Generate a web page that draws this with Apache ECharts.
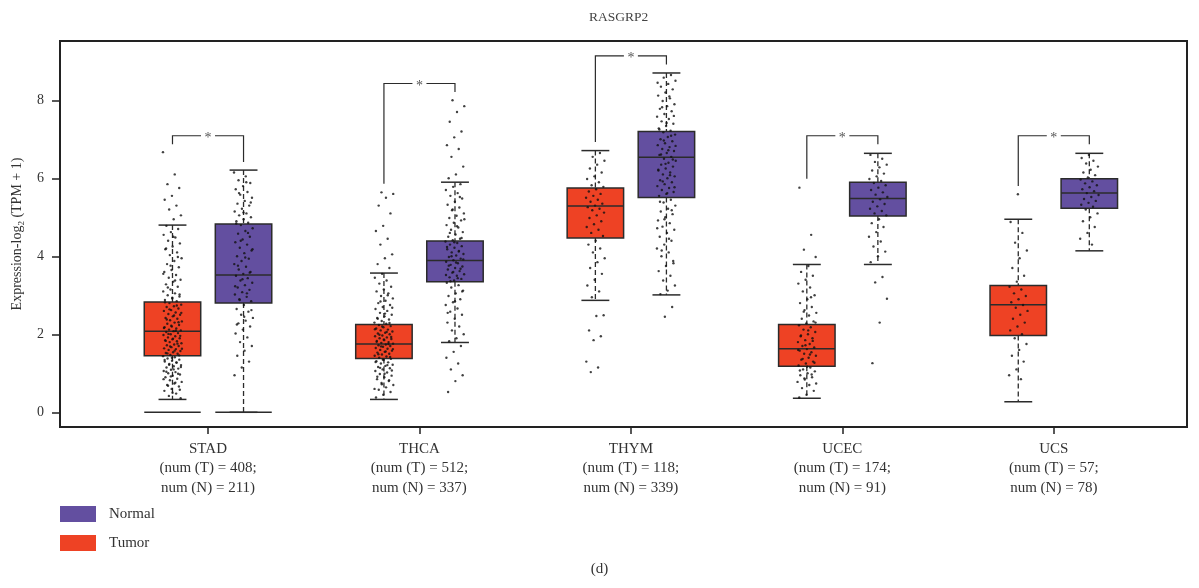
<!DOCTYPE html>
<html><head><meta charset="utf-8">
<script src="https://cdn.jsdelivr.net/npm/echarts@6/dist/echarts.min.js"></script>
<style>html,body{margin:0;padding:0;background:#fff}#c{width:1199px;height:588px}</style>
</head><body><div id="c"></div>
<script>
const categories = ['STAD','THCA','THYM','UCEC','UCS'];
const numTumor = [408,512,118,174,57];
const numNormal = [211,337,339,91,78];
const yTicks = [0,2,4,6,8];
// [lower whisker, Q1, median, Q3, upper whisker]
const tumorStats = [
  [0.33,1.45,2.08,2.83,4.80],
  [0.33,1.38,1.75,2.25,3.57],
  [2.87,4.47,5.29,5.75,6.71],
  [0.36,1.18,1.63,2.25,3.79],
  [0.27,1.97,2.76,3.25,4.95]
];
const normalStats = [
  [0.00,2.80,3.52,4.83,6.21],
  [1.79,3.35,3.89,4.39,5.90],
  [3.01,5.51,6.54,7.20,8.70],
  [3.79,5.03,5.48,5.90,6.64],
  [4.14,5.23,5.62,5.99,6.64]
];
const tumorZero = [1,0,0,0,0];
const normalZero = [1,0,0,0,0];
const bracketTop = [7.09,8.43,9.14,7.09,7.09];
const bracketTumorEnd = [6.87,5.86,6.93,5.99,5.80];
const bracketNormalEnd = [6.42,8.21,8.92,6.87,6.87];

const stadTumorPts = [6.67,6.1,5.85,5.75,5.55,5.45,5.3,5.2,5.05,4.95,4.78,4.7,4.62,4.55,4.48,4.4,4.33,4.25,4.18,4.1,4.03,3.95,3.88,3.8,3.72,3.65,3.6,3.52,3.45,3.4,3.35,3.28,3.22,3.15,3.1,3.05,3.0,2.97,2.92,2.88,2.85,2.8,2.76,2.72,2.7,2.66,2.62,2.6,2.56,2.52,2.5,2.46,2.42,2.4,2.36,2.33,2.3,2.27,2.24,2.2,2.18,2.15,2.12,2.1,2.08,2.06,2.03,2.0,1.98,1.95,1.92,1.9,1.87,1.85,1.82,1.8,1.77,1.74,1.72,1.7,1.67,1.64,1.62,1.6,1.57,1.54,1.52,1.5,1.47,1.44,1.41,1.38,1.35,1.32,1.3,1.27,1.24,1.21,1.18,1.15,1.12,1.09,1.06,1.03,1.0,0.97,0.94,0.9,0.86,0.82,0.78,0.74,0.7,0.66,0.6,0.55,0.48,0.42,0.36,
  4.5,4.2,3.98,3.76,3.55,3.38,3.2,3.02,2.94,2.82,2.74,2.64,2.55,2.48,2.38,2.31,2.22,2.16,2.09,2.01,1.96,1.89,1.83,1.76,1.69,1.63,1.58,1.51,1.46,1.4,1.34,1.28,1.22,1.16,1.1,1.04,0.99,0.92,0.85,0.76,0.68,0.58,0.5];
const stadNormalPts = [6.15,6.05,5.95,5.88,5.8,5.72,5.65,5.58,5.5,5.42,5.35,5.3,5.22,5.15,5.1,5.05,5.0,4.95,4.9,4.86,4.8,4.72,4.65,4.58,4.5,4.43,4.36,4.3,4.22,4.15,4.08,4.0,3.94,3.88,3.8,3.73,3.66,3.6,3.55,3.5,3.44,3.38,3.32,3.26,3.2,3.14,3.08,3.02,2.96,2.9,2.85,2.75,2.65,2.58,2.5,2.42,2.35,2.28,2.2,2.12,2.02,1.92,1.8,1.7,1.58,1.45,1.3,1.15,0.95,
  5.9,5.62,5.38,5.12,4.84,4.6,4.4,4.18,3.97,3.76,3.58,3.41,3.23,3.05,2.88,2.62,2.45,2.25];
const thcaTumorPts = [5.64,5.6,5.5,5.3,5.1,4.78,4.65,4.45,4.3,4.05,3.95,3.8,3.7,3.55,3.45,3.38,3.3,3.22,3.15,3.1,3.05,2.98,2.92,2.86,2.8,2.75,2.7,2.65,2.6,2.55,2.5,2.46,2.42,2.38,2.34,2.3,2.27,2.24,2.21,2.18,2.15,2.12,2.1,2.07,2.04,2.02,2.0,1.97,1.95,1.92,1.9,1.88,1.85,1.83,1.8,1.78,1.76,1.74,1.72,1.7,1.68,1.65,1.63,1.6,1.58,1.55,1.53,1.5,1.48,1.45,1.43,1.4,1.37,1.34,1.31,1.28,1.25,1.22,1.19,1.16,1.13,1.1,1.06,1.02,0.98,0.94,0.9,0.85,0.8,0.75,0.7,0.64,0.58,0.52,0.45,0.38,
  3.0,2.84,2.68,2.53,2.4,2.29,2.2,2.13,2.06,1.99,1.93,1.87,1.81,1.75,1.69,1.62,1.56,1.49,1.42,1.35,1.29,1.21,1.14,1.07,0.99,0.91,0.82,0.72,0.6];
const thcaNormalPts = [8.0,7.85,7.7,7.45,7.2,7.05,6.85,6.75,6.55,6.3,6.1,6.0,5.85,5.78,5.7,5.62,5.55,5.48,5.4,5.32,5.25,5.18,5.1,5.04,4.98,4.92,4.86,4.8,4.74,4.68,4.62,4.56,4.5,4.45,4.41,4.38,4.34,4.3,4.26,4.22,4.18,4.14,4.1,4.06,4.02,3.98,3.94,3.9,3.86,3.82,3.78,3.74,3.7,3.66,3.62,3.58,3.54,3.5,3.46,3.42,3.38,3.32,3.26,3.2,3.12,3.05,2.98,2.9,2.82,2.75,2.66,2.58,2.5,2.4,2.3,2.2,2.1,2.0,1.9,1.82,1.7,1.55,1.4,1.25,1.1,0.95,0.8,0.52,
  5.52,5.2,4.95,4.77,4.6,4.47,4.36,4.24,4.12,4.0,3.92,3.84,3.76,3.68,3.6,3.52,3.44,3.36,3.1,2.85,2.55];
const thymTumorPts = [6.65,6.55,6.45,6.35,6.25,6.15,6.05,5.98,5.9,5.82,5.78,5.72,5.66,5.6,5.55,5.5,5.45,5.4,5.35,5.3,5.26,5.22,5.18,5.12,5.05,4.98,4.9,4.82,4.75,4.68,4.6,4.52,4.4,4.3,4.2,4.1,3.95,3.85,3.7,3.55,3.4,3.25,3.1,2.95,2.49,2.47,2.1,1.95,1.85,1.3,1.15,1.03];
const thymNormalPts = [8.65,8.58,8.5,8.42,8.35,8.28,8.2,8.12,8.05,7.98,7.9,7.85,7.78,7.72,7.65,7.58,7.52,7.46,7.4,7.34,7.28,7.22,7.18,7.12,7.06,7.0,6.95,6.9,6.85,6.8,6.75,6.7,6.65,6.6,6.55,6.5,6.45,6.4,6.35,6.3,6.25,6.2,6.15,6.1,6.05,6.0,5.95,5.9,5.85,5.8,5.75,5.7,5.65,5.6,5.55,5.45,5.38,5.3,5.22,5.15,5.08,5.0,4.92,4.85,4.76,4.68,4.6,4.5,4.4,4.3,4.2,4.1,4.0,3.88,3.75,3.62,3.5,3.38,3.25,3.12,3.03,2.7,2.45,
  8.45,8.1,7.82,7.6,7.42,7.25,7.09,6.97,6.83,6.72,6.61,6.48,6.37,6.22,6.08,5.92,5.77,5.62,5.4,5.18,4.95,4.72,4.45,4.15,3.82];
const ucecTumorPts = [5.76,4.55,4.17,3.98,3.75,3.6,3.5,3.4,3.3,3.2,3.1,3.0,2.9,2.8,2.7,2.62,2.55,2.48,2.4,2.33,2.28,2.23,2.18,2.12,2.06,2.0,1.95,1.9,1.85,1.8,1.75,1.7,1.66,1.62,1.58,1.54,1.5,1.45,1.4,1.35,1.3,1.25,1.2,1.15,1.1,1.05,1.0,0.95,0.9,0.84,0.78,0.7,0.62,0.55,0.45,0.38,
  2.95,2.58,2.3,2.1,1.97,1.83,1.72,1.6,1.48,1.37,1.27,1.17,1.07,0.97,0.87,0.74];
const ucecNormalPts = [6.6,6.5,6.42,6.35,6.28,6.2,6.12,6.05,5.98,5.93,5.88,5.82,5.76,5.7,5.64,5.58,5.52,5.46,5.4,5.34,5.28,5.22,5.16,5.1,5.05,4.95,4.85,4.75,4.62,4.5,4.38,4.25,4.12,4.0,3.85,3.47,3.33,2.91,2.30,1.26];
const ucsTumorPts = [5.59,4.88,4.6,4.35,4.15,3.95,3.7,3.5,3.35,3.22,3.15,3.05,2.98,2.9,2.82,2.75,2.68,2.6,2.5,2.4,2.3,2.2,2.1,2.0,1.9,1.75,1.6,1.45,1.3,1.1,0.95,0.85];
const ucsNormalPts = [6.6,6.52,6.45,6.38,6.3,6.22,6.15,6.08,6.02,5.97,5.92,5.87,5.82,5.77,5.72,5.67,5.62,5.57,5.52,5.47,5.42,5.37,5.32,5.27,5.2,5.1,5.0,4.9,4.75,4.6,4.45,4.3];

const tumorPts = [stadTumorPts, thcaTumorPts, thymTumorPts, ucecTumorPts, ucsTumorPts];
const normalPts = [stadNormalPts, thcaNormalPts, thymNormalPts, ucecNormalPts, ucsNormalPts];

const TUMOR_COLOR = '#EE4224';
const NORMAL_COLOR = '#634FA0';
const INK = '#2b2b2b';
const FONT = 'Liberation Serif';
const OFF = 0.168, BOX_W = 0.267, CAP_W = 0.132, JIT = 0.045;

function boxData(stats, zero){
  return stats.map((s,i)=>[i, s[0], s[1], s[2], s[3], s[4], zero[i]]);
}
function pointData(groups, offset){
  const out = [];
  groups.forEach((g,ci)=>{
    g.forEach((v,i)=>{
      const j = ((i*0.6180339887 + ci*0.37) % 1 - 0.5) * 2 * JIT;
      out.push([ci + offset + j, v]);
    });
  });
  return out;
}
function boxRender(offset){
  return function(params, api){
    const c = api.value(0) + offset;
    const half = api.size([BOX_W,0])[0]/2;
    const capHalf = api.size([CAP_W,0])[0]/2;
    const x = api.coord([c, 0])[0];
    const y = k => api.coord([c, api.value(k)])[1];
    const yMin=y(1), yQ1=y(2), yMed=y(3), yQ3=y(4), yMax=y(5);
    const fill = api.visual('color');
    const dash = {stroke: INK, lineWidth: 1.3, lineDash:[5,3]};
    const solid = {stroke: INK, lineWidth: 1.5};
    const ch = [
      {type:'line', shape:{x1:x,y1:yMax,x2:x,y2:yQ3}, style:dash},
      {type:'line', shape:{x1:x,y1:yQ1,x2:x,y2:yMin}, style:dash},
      {type:'line', shape:{x1:x-capHalf,y1:yMax,x2:x+capHalf,y2:yMax}, style:solid},
      {type:'line', shape:{x1:x-capHalf,y1:yMin,x2:x+capHalf,y2:yMin}, style:solid},
      {type:'rect', shape:{x:x-half,y:yQ3,width:2*half,height:yQ1-yQ3}, style:{fill:fill, stroke:INK, lineWidth:1.5}},
      {type:'line', shape:{x1:x-half,y1:yMed,x2:x+half,y2:yMed}, style:solid}
    ];
    if (api.value(6)) {
      const y0 = api.coord([c,0])[1];
      ch.push({type:'line', shape:{x1:x-half,y1:y0,x2:x+half,y2:y0}, style:solid});
    }
    return {type:'group', children: ch};
  };
}
function bracketRender(params, api){
  const ci = api.value(0);
  const xT = api.coord([ci-OFF,0])[0], xN = api.coord([ci+OFF,0])[0], xc = api.coord([ci,0])[0];
  const yTop = api.coord([ci, api.value(1)])[1];
  const yL = api.coord([ci, api.value(2)])[1];
  const yR = api.coord([ci, api.value(3)])[1];
  const st = {stroke: INK, lineWidth: 1.2, fill: null};
  const gap = 7;
  return {type:'group', children:[
    {type:'polyline', shape:{points:[[xT,yL],[xT,yTop],[xc-gap,yTop]]}, style:st},
    {type:'polyline', shape:{points:[[xc+gap,yTop],[xN,yTop],[xN,yR]]}, style:st},
    {type:'text', x: xc, y: yTop+3, style:{text:'*', fill:'#555', font:'14px "'+FONT+'"', align:'center', verticalAlign:'middle'}}
  ]};
}

const chart = echarts.init(document.getElementById('c'));
chart.setOption({
  animation: false,
  backgroundColor: '#fff',
  title: {text:'RASGRP2', left: 584, top: 5, textStyle:{fontFamily:FONT, fontSize:13.5, fontWeight:'normal', color:'#444'}},
  legend: {data:['Normal','Tumor'], orient:'vertical', left:60, top:506, itemWidth:36, itemHeight:16, itemGap:13, icon:'rect', padding:0,
    textStyle:{fontFamily:FONT, fontSize:15, color:'#333', padding:[0,0,0,8]}},
  grid: {left:60, right:12, top:41, bottom:161, show:true, borderColor:'#222', borderWidth:2, backgroundColor:'transparent'},
  xAxis: {type:'value', min:-0.70, max:4.63,
    axisLine:{show:false, onZero:false}, splitLine:{show:false},
    axisTick:{show:true, customValues:[0,1,2,3,4], length:7, inside:false, lineStyle:{color:'#222', width:1.5}},
    axisLabel:{customValues:[0,1,2,3,4], margin:12, fontFamily:FONT, fontSize:15, color:'#333', lineHeight:19.5, verticalAlign:'top',
      formatter: v => { const i = Math.round(v); return categories[i] + '\n(num (T) = ' + numTumor[i] + ';\nnum (N) = ' + numNormal[i] + ')'; }}
  },
  yAxis: {type:'value', min:-0.377, max:9.52,
    name:'Expression-log{s|2} (TPM + 1)', nameLocation:'middle', nameGap:30, nameRotate:90,
    nameTextStyle:{fontFamily:FONT, fontSize:14, color:'#333', rich:{s:{fontFamily:FONT, fontSize:9, color:'#333', verticalAlign:'bottom', lineHeight:18}}},
    axisLine:{show:false, onZero:false}, splitLine:{show:false},
    axisTick:{show:true, customValues:yTicks, length:8, lineStyle:{color:'#222', width:1.5}},
    axisLabel:{customValues:yTicks, margin:16, fontFamily:FONT, fontSize:14, color:'#333'}
  },
  graphic: [{type:'text', left:'center', top:562, style:{text:'(d)', font:'15px "'+FONT+'"', fill:'#333'}}],
  series: [
    {name:'Tumor', type:'custom', renderItem: boxRender(-OFF), itemStyle:{color:TUMOR_COLOR}, encode:{x:0, y:[1,5]}, data: boxData(tumorStats, tumorZero), z:2},
    {name:'Normal', type:'custom', renderItem: boxRender(OFF), itemStyle:{color:NORMAL_COLOR}, encode:{x:0, y:[1,5]}, data: boxData(normalStats, normalZero), z:2},
    {name:'tumorPoints', type:'scatter', symbolSize:2.4, itemStyle:{color:'#111'}, data: pointData(tumorPts, -OFF), z:3, silent:true},
    {name:'normalPoints', type:'scatter', symbolSize:2.4, itemStyle:{color:'#111'}, data: pointData(normalPts, OFF), z:3, silent:true},
    {name:'sig', type:'custom', renderItem: bracketRender, encode:{x:0, y:1}, data: categories.map((c,i)=>[i, bracketTop[i], bracketTumorEnd[i], bracketNormalEnd[i]]), z:4}
  ]
});
</script></body></html>
